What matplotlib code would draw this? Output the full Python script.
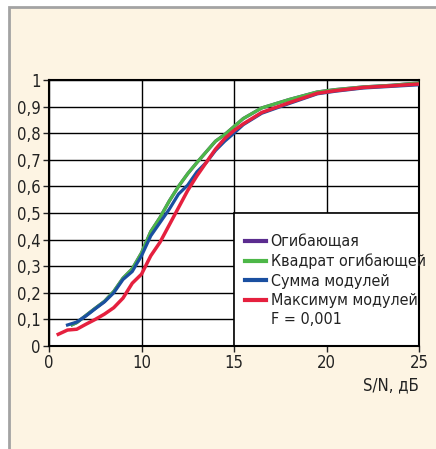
import numpy as np
import matplotlib
matplotlib.use("Agg")
import matplotlib.pyplot as plt
from matplotlib.patches import Rectangle
from matplotlib.lines import Line2D

plt.rcParams['font.family'] = ['DejaVu Sans']
plt.rcParams['font.stretch'] = 'condensed'

# S/N, dB  ->  detection probability
x_sq = [2.5, 3, 4, 5, 6, 7, 8, 9, 10, 10.5, 11, 11.5, 12, 12.5, 13, 13.5, 14, 14.5,
        15, 15.5, 16.5, 18, 19.5, 20.5, 22, 23.5, 25]
y_sq = [0.08, 0.088, 0.115, 0.142, 0.168, 0.205, 0.255, 0.29, 0.35, 0.43, 0.483, 0.545,
        0.6, 0.648, 0.69, 0.73, 0.77, 0.795, 0.825, 0.855, 0.895, 0.927, 0.955, 0.964,
        0.974, 0.98, 0.989]

# envelope gives the same curve as squared envelope (hidden underneath)
x_env = x_sq
y_env = y_sq

x_sum = [2, 3, 4, 5, 6, 7, 8, 9, 9.5, 10, 10.5, 11, 11.5, 12, 12.5, 13, 13.5, 14, 14.5,
         15, 15.5, 16.5, 18, 19.5, 20.5, 22, 23.5, 25]
y_sum = [0.079, 0.09, 0.113, 0.14, 0.166, 0.2, 0.25, 0.28, 0.31, 0.339, 0.414, 0.464,
         0.514, 0.571, 0.605, 0.655, 0.69, 0.735, 0.77, 0.8, 0.832, 0.875, 0.912, 0.948,
         0.958, 0.97, 0.976, 0.982]

x_max = [1, 2, 3, 4, 5, 6, 7, 8, 9, 10, 10.5, 11, 11.5, 12, 12.5, 13, 13.5, 14, 14.5, 15,
         15.5, 16.5, 18, 19.5, 20.5, 22, 23.5, 25]
y_max = [0.044, 0.06, 0.063, 0.082, 0.1, 0.12, 0.144, 0.18, 0.236, 0.27, 0.339, 0.39,
         0.455, 0.52, 0.585, 0.64, 0.69, 0.74, 0.78, 0.81, 0.835, 0.878, 0.915, 0.95,
         0.96, 0.972, 0.978, 0.985]

labels = ["Огибающая", "Квадрат огибающей", "Сумма модулей", "Максимум модулей"]
colors = ["#5B2C8F", "#4DB748", "#1A4FA0", "#E5203E"]

xticks = [0, 10, 15, 20, 25]
yticks = [0, 0.1, 0.2, 0.3, 0.4, 0.5, 0.6, 0.7, 0.8, 0.9, 1]
ytick_labels = ["0", "0,1", "0,2", "0,3", "0,4", "0,5", "0,6", "0,7", "0,8", "0,9", "1"]


# the first interval (0..10) is drawn as wide as the 5 dB ones
def fwd(x):
    x = np.asarray(x, dtype=float)
    return np.where(x < 10, x / 10, 1 + (x - 10) / 5)


def inv(p):
    p = np.asarray(p, dtype=float)
    return np.where(p < 1, p * 10, 10 + (p - 1) * 5)


W, H = 436, 449
fig = plt.figure(figsize=(W / 100, H / 100), dpi=100)
fig.patch.set_facecolor("white")

# beige panel with grey border
panel = Rectangle((9 / W, -0.05), 1.1, 1 - 7 / H + 0.05, transform=fig.transFigure,
                  facecolor="#FDF4E3", edgecolor="#A3A3A3", linewidth=2, zorder=-10)
fig.add_artist(panel)

ax = fig.add_axes([49 / W, 1 - 346 / H, (419 - 49) / W, (346 - 80) / H])
ax.set_xscale("function", functions=(fwd, inv))
ax.set_xlim(0, 25)
ax.set_ylim(0, 1)
ax.set_facecolor("white")

ax.set_axisbelow(True)
ax.grid(True, color="black", linewidth=1)
for s in ax.spines.values():
    s.set_linewidth(1.5)

ax.set_xticks(xticks)
ax.set_xticklabels([str(t) for t in xticks])
ax.set_yticks(yticks)
ax.set_yticklabels(ytick_labels)
ax.minorticks_off()
ax.tick_params(axis="both", labelsize=12, length=4, width=1, pad=2, colors="#222222")

ax.plot(x_env, y_env, color=colors[0], linewidth=2.3, zorder=2)
ax.plot(x_sq, y_sq, color=colors[1], linewidth=2.3, zorder=3)
ax.plot(x_sum, y_sum, color=colors[2], linewidth=2.3, zorder=4)
ax.plot(x_max, y_max, color=colors[3], linewidth=2.5, zorder=5)

ax.text(1.0, -0.115, "S/N, дБ", transform=ax.transAxes, ha="right", va="top",
        fontsize=12, color="#222222")

# white legend box in the lower right quarter
ax.add_patch(Rectangle((0.5, 0), 0.5, 0.5, transform=ax.transAxes, facecolor="white",
                       edgecolor="black", linewidth=1.2, zorder=1))

handles = [Line2D([], [], color=c, linewidth=3) for c in colors]
handles.append(Line2D([], [], color="none"))
leg = ax.legend(handles, labels + ["F = 0,001"], loc="upper left",
                bbox_to_anchor=(0.53, 0.419), frameon=False, fontsize=11.5,
                handlelength=1.3, handletextpad=0.3, labelspacing=0.27,
                borderpad=0, borderaxespad=0)
for t in leg.get_texts():
    t.set_color("#222222")
leg.set_zorder(6)

fig.savefig("out.png", dpi=100, facecolor=fig.get_facecolor())
